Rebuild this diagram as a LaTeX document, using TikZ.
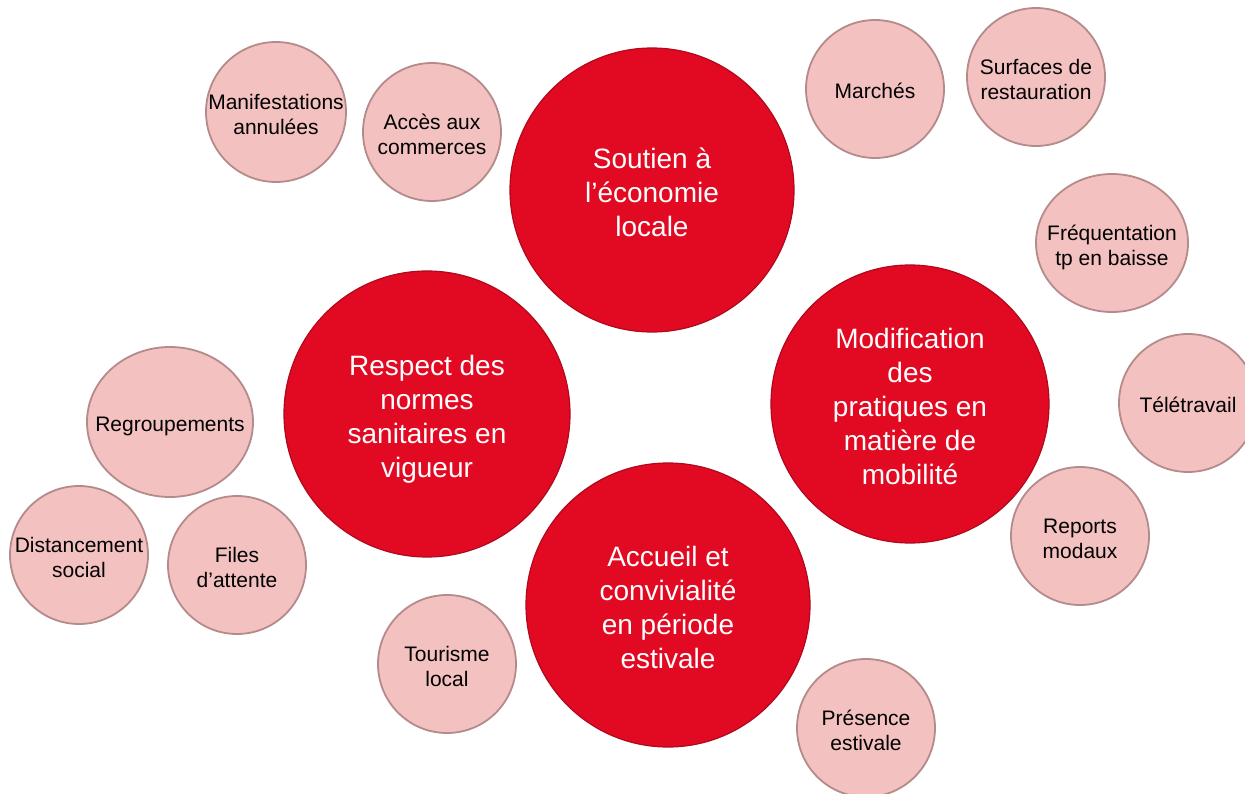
\documentclass[tikz,border=0pt]{standalone}
\usepackage{fontspec}
\setmainfont{Liberation Sans}
\usepackage{xcolor}
\usetikzlibrary{shapes.geometric}
\definecolor{bigred}{HTML}{E20A22}
\definecolor{bigline}{HTML}{B0081C}
\definecolor{pinkfill}{HTML}{F4C1C1}
\definecolor{pinkline}{HTML}{B48A8A}
\newcommand{\ctext}[1]{\raisebox{-0.22em}[\height][\depth]{\makebox[0pt]{\begin{tabular}{@{}c@{}}#1\end{tabular}}}}

\begin{document}
\begin{tikzpicture}[x=1pt,y=-1pt]
\tikzstyle{main}=[ellipse,draw=bigline,line width=1.2pt,fill=bigred,text=white,inner sep=0pt,minimum size=284pt,font=\fontsize{28}{34}\selectfont]
\tikzstyle{sub}=[ellipse,draw=pinkline,line width=1.8pt,fill=pinkfill,text=black,inner sep=0pt,minimum size=138pt,font=\fontsize{21}{25}\selectfont]
\useasboundingbox (0,0) rectangle (1245,794);
\node[main] (eco) at (652,190) {\ctext{Soutien à\\l’économie\\locale}};
\node[main,minimum size=286pt] (san) at (427,414) {\ctext{Respect des\\normes\\sanitaires en\\vigueur}};
\node[main,minimum size=278pt] (mob) at (910,404) {\ctext{Modification\\des\\pratiques en\\matière de\\mobilité}};
\node[main] (acc) at (668,605) {\ctext{Accueil et\\convivialité\\en période\\estivale}};
\node[sub,minimum size=140pt] (man) at (276,112) {\ctext{Manifestations\\annulées}};
\node[sub] (com) at (432,132) {\ctext{Accès aux\\commerces}};
\node[sub] (mar) at (875,89) {\ctext{Marchés}};
\node[sub] (sur) at (1036,77) {\ctext{Surfaces de\\restauration}};
\node[sub,minimum width=152pt] (fre) at (1112,243) {\ctext{Fréquentation\\tp en baisse}};
\node[sub] (tel) at (1188,403) {\ctext{Télétravail}};
\node[sub] (rep) at (1080,536) {\ctext{Reports\\modaux}};
\node[sub] (pre) at (866,728) {\ctext{Présence\\estivale}};
\node[sub] (tou) at (447,664) {\ctext{Tourisme\\local}};
\node[sub,minimum width=166pt,minimum height=150pt] (reg) at (170,422) {\ctext{Regroupements}};
\node[sub] (dis) at (79,555) {\ctext{Distancement\\social}};
\node[sub] (fil) at (237,565) {\ctext{Files\\d’attente}};
\end{tikzpicture}
\end{document}
